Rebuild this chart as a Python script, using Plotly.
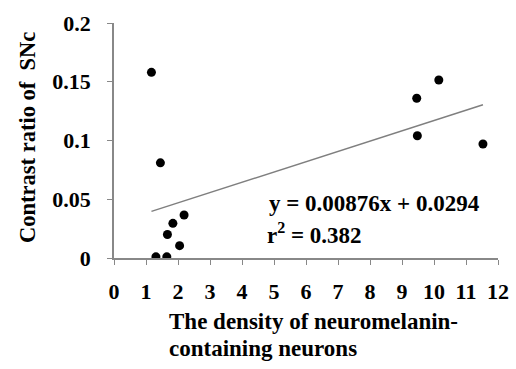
import plotly.graph_objects as go

density = [1.17, 1.45, 1.31, 1.65, 1.67, 1.84, 2.05, 2.19, 9.46, 9.48, 10.15, 11.53]
contrast = [0.158, 0.081, 0.001, 0.001, 0.020, 0.0295, 0.0105, 0.0366, 0.136, 0.104, 0.1515, 0.097]
slope = 0.00876
intercept = 0.0294
r2 = 0.382
x_ticks = list(range(0, 13))
y_ticks = [0, 0.05, 0.1, 0.15, 0.2]
y_tick_labels = ["0", "0.05", "0.1", "0.15", "0.2"]
x_title_lines = ["The density of neuromelanin-", "containing neurons"]
y_title = "Contrast ratio of  SNc"

FONT = "Liberation Serif"
fx = [min(density), max(density)]
fy = [slope * v + intercept for v in fx]

fig = go.Figure()
fig.add_trace(go.Scatter(x=fx, y=fy, mode="lines", line=dict(color="#7f7f7f", width=1.5),
                         showlegend=False, hoverinfo="skip"))
fig.add_trace(go.Scatter(x=density, y=contrast, mode="markers",
                         marker=dict(color="black", size=9), showlegend=False))

fig.update_layout(
    width=516, height=369,
    margin=dict(l=114, r=18, t=23, b=111),
    paper_bgcolor="white", plot_bgcolor="white",
    font=dict(family=FONT, color="black", size=22),
    xaxis=dict(range=[0, 12], tickvals=x_ticks, ticks="outside", ticklen=5,
               tickcolor="#888", showline=True, linecolor="#888", linewidth=1.5,
               showgrid=False, zeroline=False, automargin=False,
               tickfont=dict(family=FONT, size=22, color="black", weight="bold"),
               ticklabelstandoff=8),
    yaxis=dict(range=[0, 0.2], tickvals=y_ticks, ticktext=y_tick_labels, ticks="outside",
               ticklen=5, tickcolor="#888", showline=True, linecolor="#888", linewidth=1.5,
               showgrid=False, zeroline=False, automargin=False,
               tickfont=dict(family=FONT, size=22, color="black", weight="bold"),
               ticklabelstandoff=12),
)

fig.add_annotation(x=(28 - 114) / 384, y=0.511, xref="paper", yref="paper",
                   xanchor="center", yanchor="middle", textangle=-90,
                   text=y_title, showarrow=False,
                   font=dict(family=FONT, size=22.5, color="black", weight="bold"))
fig.add_annotation(x=4.78, y=0.046, xref="x", yref="y", xanchor="left", yanchor="middle",
                   text=f"y = {slope}x + {intercept}", showarrow=False,
                   font=dict(family=FONT, size=23, color="black", weight="bold"))
fig.add_annotation(x=4.72, y=0.021, xref="x", yref="y", xanchor="left", yanchor="middle",
                   text=f"r<sup>2</sup> = {r2}", showarrow=False,
                   font=dict(family=FONT, size=23, color="black", weight="bold"))
for line, ypix in zip(x_title_lines, [321, 348]):
    fig.add_annotation(x=(167 - 114) / 384, y=(258 - ypix) / 235, xref="paper", yref="paper",
                       xanchor="left", yanchor="middle", align="left",
                       text=line, showarrow=False,
                       font=dict(family=FONT, size=23, color="black", weight="bold"))

fig.write_html("out.html", config={"displayModeBar": False},
               post_script="document.body.style.margin='0';")
